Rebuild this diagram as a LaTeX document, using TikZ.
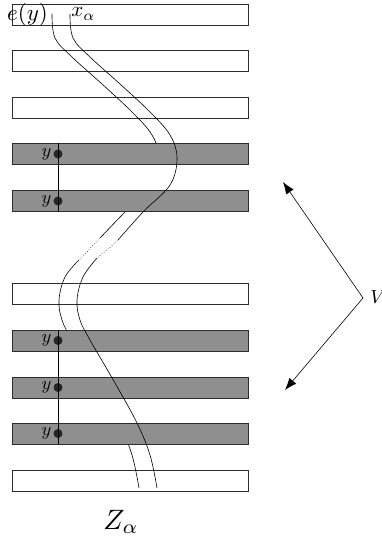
\documentclass[tikz,border=0pt]{standalone}
\usetikzlibrary{arrows.meta,positioning}
\definecolor{bandgray}{RGB}{143,143,143}
\definecolor{edgegray}{RGB}{45,45,45}
\begin{document}
\begin{tikzpicture}[x=1pt,y=-1pt,
  band/.style={draw=edgegray,line width=0.9pt,rectangle,minimum width=236pt,minimum height=21pt,inner sep=0pt,anchor=center},
  whiteband/.style={band,fill=white},
  grayband/.style={band,fill=bandgray},
  dotnode/.style={circle,fill=black!85,inner sep=0pt,minimum size=9pt},
  ylab/.style={scale=1.85,inner sep=0pt},
  strand/.style={line width=0.6pt,black},
  arr/.style={line width=0.6pt,-{Latex[length=12pt,width=9pt]}}]
\useasboundingbox (0,0) rectangle (382,543);
% white bands
\node[whiteband] (r1) at (130,14.5) {};
\node[whiteband] (r2) at (130,61) {};
\node[whiteband] (r3) at (130,107.5) {};
\node[whiteband] (r6) at (130,293.5) {};
\node[whiteband] (r10) at (130,480.5) {};
% strand 1 (only visible outside the grey clusters)
\begin{scope}
\clip (0,0) rectangle (382,143.5) (0,211.5) rectangle (382,330) (0,444) rectangle (382,543);
\draw[strand] plot[smooth,tension=0.6] coordinates {(52,14) (55,38) (72,57) (102,84) (132,112) (152,135) (159,158) (152,185) (125,212) (100,238)};
\draw[strand,dotted] (100,238) .. controls (92,246) and (86,253) .. (79,260);
\draw[strand] plot[smooth,tension=0.6] coordinates {(79,260) (65,277) (59,300) (62,320) (72,340) (97,383) (119,423) (132,455) (139,488)};
\end{scope}
% grey bands
\node[grayband] (r4) at (130,154) {};
\node[grayband] (r5) at (130,201) {};
\node[grayband] (r7) at (130,340.5) {};
\node[grayband] (r8) at (130,387.5) {};
\node[grayband] (r9) at (130,433.5) {};
% strand 2 (in front)
\draw[strand] plot[smooth,tension=0.6] coordinates {(70,14) (73,38) (90,57) (120,84) (150,112) (170,135) (177,158) (170,185) (143,212) (118,240)};
\draw[strand,dotted] (118,240) .. controls (110,248) and (104,252) .. (97,258);
\draw[strand] plot[smooth,tension=0.6] coordinates {(97,258) (83,277) (77,300) (80,320) (90,340) (115,383) (137,423) (150,455) (157,488)};
% dots and vertical lines
\node[dotnode] (d4) at (58,154) {};
\node[dotnode] (d5) at (58,201) {};
\node[dotnode] (d7) at (58,340.5) {};
\node[dotnode] (d8) at (58,387.5) {};
\node[dotnode] (d9) at (58,433.5) {};
\draw[line width=0.7pt] (d4 |- r4.north) -- (d5 |- r5.south);
\draw[line width=0.7pt] (d7 |- r7.north) -- (d9 |- r9.south);
\node[ylab,left=1.5pt of d4] (y4) {$y$};
\node[ylab,left=1.5pt of d5] (y5) {$y$};
\node[ylab,left=1.5pt of d7] (y7) {$y$};
\node[ylab,left=1.5pt of d8] (y8) {$y$};
\node[ylab,left=1.5pt of d9] (y9) {$y$};
% labels
\node[scale=2.3,inner sep=0pt] (ey) at (27.5,15) {$e(y)$};
\node[scale=2.1,inner sep=0pt,anchor=west] (xa) at (71,14) {$x_\alpha$};
\node[scale=2.8,inner sep=0pt] (za) at (121,522) {$Z_\alpha$};
\node[scale=1.9,inner sep=0pt,anchor=west] (vl) at (370,297) {$V$};
% arrows
\coordinate (apex) at (363,298);
\coordinate (tipu) at (283,182);
\coordinate (tipd) at (285,390);
\draw[arr] (apex) -- (tipu);
\draw[arr] (apex) -- (tipd);
\end{tikzpicture}
\end{document}
